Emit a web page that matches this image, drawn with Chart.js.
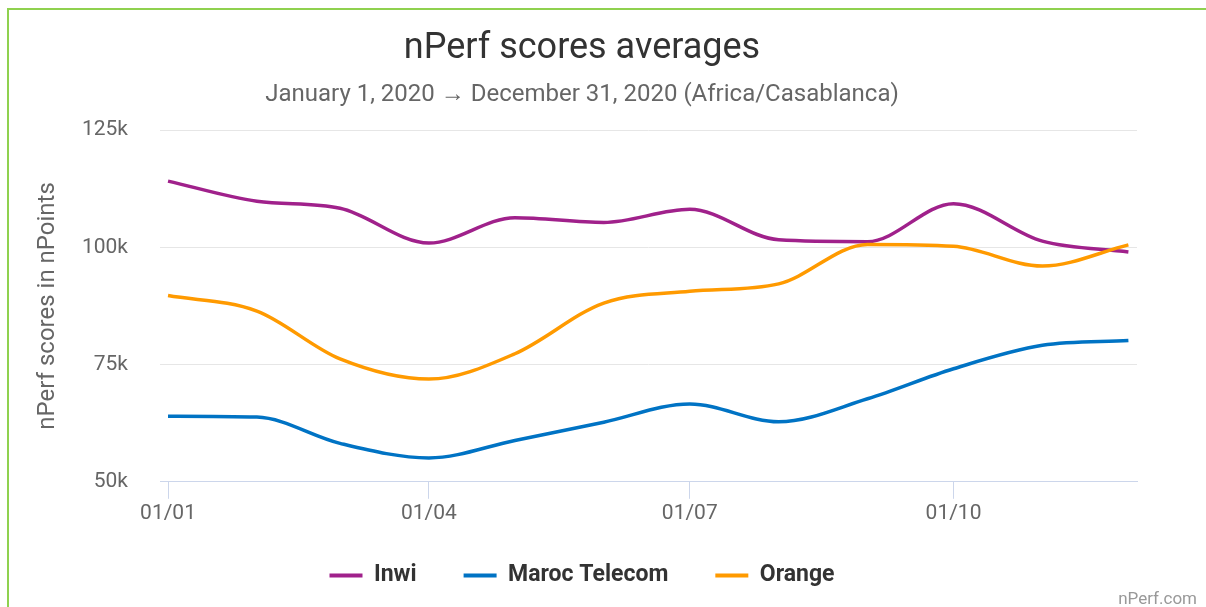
<!DOCTYPE html>
<html>
<head>
<meta charset="utf-8">
<script src="https://cdn.jsdelivr.net/npm/chart.js@4/dist/chart.umd.min.js"></script>
<style>
  html, body { margin: 0; padding: 0; background: #fff; overflow: hidden; }
  body { width: 1206px; height: 607px; position: relative; font-family: Roboto, sans-serif; }
  .frame { position: absolute; left: 7px; top: 8px; width: 1220px; height: 640px; border: 2px solid #8fd14f; box-sizing: border-box; }
  .box { position: absolute; left: 10px; top: 10px; width: 1144px; height: 640px; }
  .credit { position: absolute; right: 9px; top: 588px; font-size: 17px; color: #999; }
</style>
</head>
<body>
<div class="frame"></div>
<div class="box"><canvas id="chart"></canvas></div>
<div class="credit">nPerf.com</div>
<script>
// first day of each month, 2020
const months = ['01/01', '01/02', '01/03', '01/04', '01/05', '01/06', '01/07', '01/08', '01/09', '01/10', '01/11', '01/12']
const tickMonths = ['01/01', '01/04', '01/07', '01/10']

const inwi = [114.1, 109.8, 108.3, 100.9, 106.3, 105.3, 108.1, 101.6, 101.2, 109.3, 101.3, 99.0]
const marocTelecom = [64.0, 63.8, 58.2, 55.1, 58.8, 62.7, 66.6, 62.8, 67.7, 74.1, 79.1, 80.1]
const orange = [89.7, 86.4, 76.2, 71.9, 77.3, 88.1, 90.6, 92.2, 100.6, 100.2, 96.0, 100.5]

const dayOf = (label) => {
  const [d, m] = label.split('/').map(Number)
  return (Date.UTC(2020, m - 1, d) - Date.UTC(2020, 0, 1)) / 864e5
}

const toPoints = (values) => values.map((v, i) => ({ x: dayOf(months[i]), y: v * 1000 }))

const font = 'Roboto'

const series = [
  { label: 'Inwi', values: inwi, color: '#a0218b' },
  { label: 'Maroc Telecom', values: marocTelecom, color: '#0073c4' },
  { label: 'Orange', values: orange, color: '#ff9a00' },
]

// legend padding is wide for the gaps between items, pull it back up
const liftLegend = {
  id: 'liftLegend',
  afterLayout: (chart) => {
    chart.legend.top -= 11
    chart.legend.bottom -= 11
  },
}

new Chart(document.getElementById('chart'), {
  type: 'line',
  plugins: [liftLegend],
  data: {
    datasets: series.map((s, i) => ({
      label: s.label,
      data: toPoints(s.values),
      borderColor: s.color,
      backgroundColor: s.color,
      borderWidth: 3.5,
      pointRadius: 0,
      cubicInterpolationMode: 'monotone',
      order: series.length - i,
    })),
  },
  options: {
    responsive: true,
    maintainAspectRatio: false,
    animation: false,
    layout: { padding: { left: 17, right: 17, top: 0, bottom: 42 } },
    scales: {
      x: {
        type: 'linear',
        min: -2.8,
        max: 338,
        afterBuildTicks: (axis) => {
          axis.ticks = tickMonths.map((m) => ({ value: dayOf(m) }))
        },
        ticks: {
          autoSkip: false,
          maxRotation: 0,
          padding: 2,
          color: '#666',
          font: { family: font, size: 21 },
          callback: (value) => tickMonths.find((m) => dayOf(m) === value) || '',
        },
        grid: { drawOnChartArea: false, color: '#ccd6eb', tickLength: 17 },
        border: { color: '#ccd6eb' },
      },
      y: {
        min: 50000,
        max: 125000,
        afterFit: (axis) => { axis.width = 133 },
        ticks: {
          stepSize: 25000,
          padding: 32,
          color: '#666',
          font: { family: font, size: 21 },
          callback: (value) => value / 1000 + 'k',
        },
        grid: {
          drawTicks: false,
          color: (ctx) => ctx.tick && ctx.tick.value === 50000 ? 'rgba(0,0,0,0)' : '#e6e6e6',
        },
        border: { display: false },
        title: {
          display: true,
          text: 'nPerf scores in nPoints',
          color: '#666',
          font: { family: font, size: 24 },
          padding: { top: 7, bottom: 0 },
        },
      },
    },
    plugins: {
      title: {
        display: true,
        text: 'nPerf scores averages',
        color: '#333',
        font: { family: font, size: 36, weight: 'normal' },
        padding: { top: 17, bottom: 0 },
      },
      subtitle: {
        display: true,
        text: 'January 1, 2020 \u2192 December 31, 2020 (Africa/Casablanca)',
        color: '#666',
        font: { family: font, size: 24 },
        padding: { top: 10, bottom: 21 },
      },
      legend: {
        position: 'bottom',
        labels: {
          boxWidth: 33,
          boxHeight: 4,
          padding: 47,
          color: '#333',
          font: { family: font, size: 23, weight: 'bold' },
          sort: (a, b) => a.datasetIndex - b.datasetIndex,
          generateLabels: (chart) => Chart.defaults.plugins.legend.labels.generateLabels(chart)
            .map((item) => ({ ...item, lineWidth: 0 })),
        },
      },
      tooltip: { enabled: false },
    },
  },
})
</script>
</body>
</html>
